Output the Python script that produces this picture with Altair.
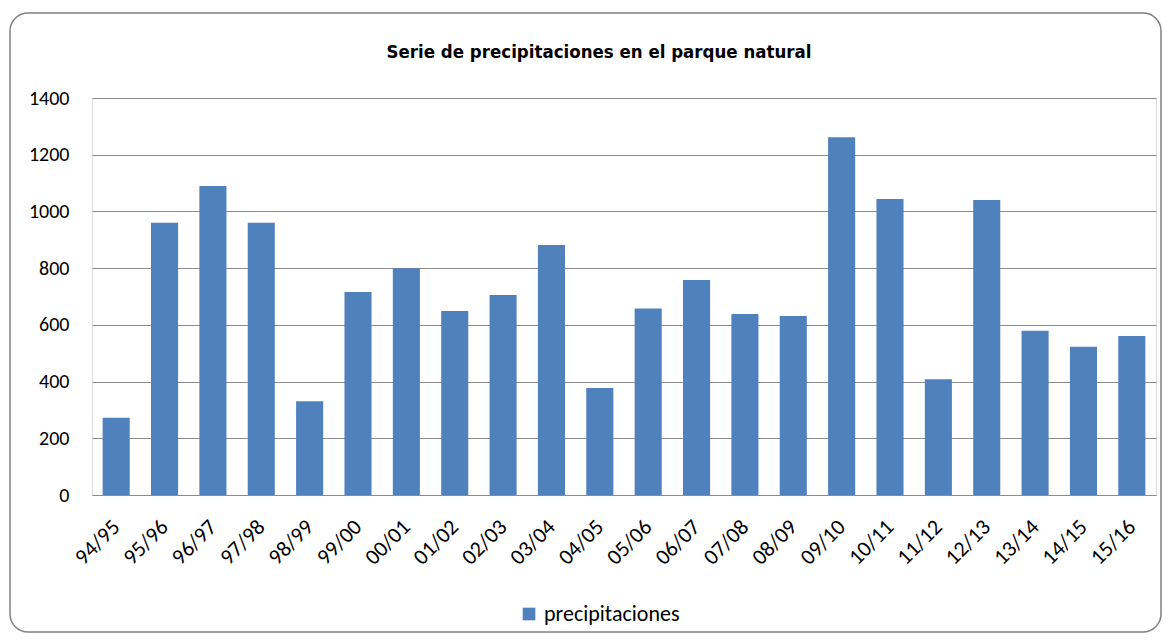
import altair as alt
import pandas as pd

temporadas = ["94/95", "95/96", "96/97", "97/98", "98/99", "99/00", "00/01", "01/02",
              "02/03", "03/04", "04/05", "05/06", "06/07", "07/08", "08/09", "09/10",
              "10/11", "11/12", "12/13", "13/14", "14/15", "15/16"]
precipitaciones = [272, 960, 1090, 960, 331, 716, 800, 649, 705, 882, 377, 658,
                   758, 638, 631, 1262, 1044, 408, 1040, 579, 523, 561]
serie = "precipitaciones"
titulo = "Serie de precipitaciones en el parque natural"
y_ticks = [0, 200, 400, 600, 800, 1000, 1200, 1400]

df = pd.DataFrame({"temporada": temporadas, "valor": precipitaciones, "serie": serie})

LABEL_FONT = "Carlito, Lato, sans-serif"

bars = alt.Chart(df).mark_bar(color="#4F81BD").encode(
    x=alt.X("temporada:N", sort=temporadas, title=None,
            scale=alt.Scale(paddingInner=0.44, paddingOuter=0.22),
            axis=alt.Axis(labelAngle=-45, labelAlign="right", labelBaseline="middle",
                          labelFontSize=22, labelFont=LABEL_FONT, labelColor="#000000",
                          labelPadding=28, ticks=False, domainColor="#8c8c8c",
                          domainWidth=1.2, grid=False)),
    y=alt.Y("valor:Q", title=None,
            scale=alt.Scale(domain=[0, 1400], nice=False),
            axis=alt.Axis(values=y_ticks, format="d", labelFontSize=20, labelFont=LABEL_FONT,
                          labelColor="#000000", labelPadding=23, ticks=False,
                          domain=False, grid=True, gridColor="#8c8c8c", gridWidth=1.2)),
    color=alt.Color("serie:N", scale=alt.Scale(range=["#4F81BD"]),
                    legend=alt.Legend(title=None, orient="none", legendX=426, legendY=505,
                                      symbolType="square", symbolSize=160,
                                      symbolStrokeWidth=0, labelFontSize=22,
                                      labelFont=LABEL_FONT, labelColor="#000000",
                                      labelOffset=4)),
)

single = pd.DataFrame({"k": [1]})
border = alt.Chart(single).mark_rect(
    fill=None, stroke="#808080", strokeWidth=1.5, cornerRadius=18, clip=False
).encode(
    x=alt.value(-82), x2=alt.value(1069), y=alt.value(-85), y2=alt.value(534)
)

title = alt.Chart(single).mark_text(
    text=titulo, font="Liberation Sans Narrow, DejaVu Sans Condensed, sans-serif",
    fontSize=18.5, fontWeight="bold", color="#000000", align="center",
    baseline="alphabetic"
).encode(x=alt.value(507), y=alt.value(-40))

chart = alt.layer(border, title, bars).properties(
    width=1064, height=397,
    autosize=alt.AutoSizeParams(type="none"),
    padding={"left": 84, "top": 90, "right": 6, "bottom": 138},
).configure_view(stroke=None).configure(background="#ffffff")

chart.save("out.html", embed_options={"renderer": "svg", "actions": False})
